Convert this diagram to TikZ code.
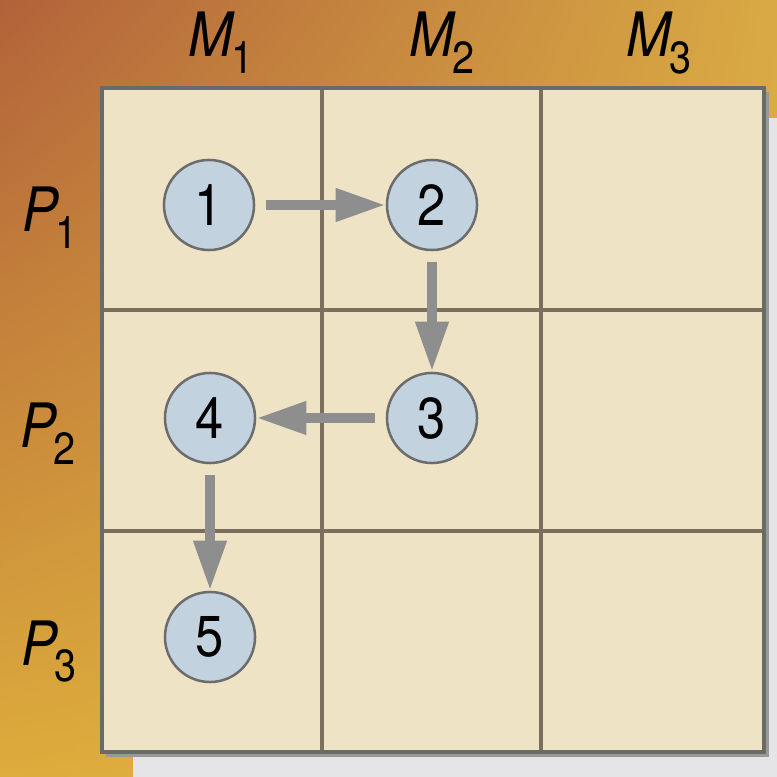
\documentclass[tikz,border=0pt]{standalone}
\usepackage{fontspec}
\setmainfont{TeX Gyre Heros}
\usetikzlibrary{arrows.meta,shadings}
\definecolor{bgTL}{HTML}{B2623A}
\definecolor{bgTR}{HTML}{D9AA44}
\definecolor{bgBL}{HTML}{DDAC3C}
\definecolor{bgBR}{HTML}{E0B442}
\definecolor{cellfill}{HTML}{EFE3C6}
\definecolor{gridline}{HTML}{7C6F5E}
\definecolor{frameline}{HTML}{6A6A66}
\definecolor{shadowcol}{HTML}{9A9A94}
\definecolor{circfill}{HTML}{C2D3DF}
\definecolor{circline}{HTML}{6C6C6C}
\definecolor{arrcol}{HTML}{8E8E8E}
\definecolor{paper}{HTML}{E5E5E7}
\tikzset{
  stepcirc/.style={circle, draw=circline, line width=0.025cm, fill=circfill,
    minimum size=0.9cm, inner sep=0pt, font=\fontsize{16.4}{18}\selectfont},
  flowarrow/.style={draw=arrcol, line width=0.1cm, shorten <=0.11cm,
    -{Triangle[length=0.5cm, width=0.31cm]}, arrcol},
  axislabel/.style={anchor=base west, inner sep=0pt, font=\fontsize{17.4}{19}\selectfont},
}
\newcommand{\lab}[2]{\scalebox{0.88}[1]{\textit{#1}\kern-1.3pt\raisebox{-4.6pt}{\fontsize{12.8}{14}\selectfont #2}}}
\newcommand{\num}[1]{\scalebox{0.88}[1]{#1}}
\begin{document}
\begin{tikzpicture}[x=0.01cm, y=-0.01cm]
\useasboundingbox (0,0) rectangle (777,777);
% background gradient
\shade[upper left=bgTL, upper right=bgTR, lower left=bgBL, lower right=bgBR] (0,0) rectangle (777,777);
% paper strips
\fill[paper] (764,118) rectangle (777,777);
\fill[paper] (133,752) rectangle (777,777);
% cells
\fill[cellfill] (102,88) rectangle (764,752);
\draw[gridline, line width=0.035cm] (322,88) -- (322,752);
\draw[gridline, line width=0.035cm] (541,88) -- (541,752);
\draw[gridline, line width=0.035cm] (102,310) -- (764,310);
\draw[gridline, line width=0.035cm] (102,531) -- (764,531);
\draw[shadowcol, line width=0.03cm] (106,755) -- (767,755) -- (767,92);
\draw[frameline, line width=0.035cm] (102,88) rectangle (764,752);
% axis labels
\node[axislabel] (m1) at (188,57) {\lab{M}{1}};
\node[axislabel] (m2) at (409,57) {\lab{M}{2}};
\node[axislabel] (m3) at (626,57) {\lab{M}{3}};
\node[axislabel] (p1) at (22,232) {\lab{P}{1}};
\node[axislabel] (p2) at (20,448) {\lab{P}{2}};
\node[axislabel] (p3) at (21,665) {\lab{P}{3}};
% steps
\node[stepcirc] (n1) at (209,205) {\num{1}};
\node[stepcirc] (n2) at (432,205) {\num{2}};
\node[stepcirc] (n3) at (432,418) {\num{3}};
\node[stepcirc] (n4) at (210,418) {\num{4}};
\node[stepcirc] (n5) at (210,637) {\num{5}};
% arrows
\draw[flowarrow] (n1) -- (n2);
\draw[flowarrow] (n2) -- (n3);
\draw[flowarrow] (n3) -- (n4);
\draw[flowarrow] (n4) -- (n5);
\end{tikzpicture}
\end{document}
